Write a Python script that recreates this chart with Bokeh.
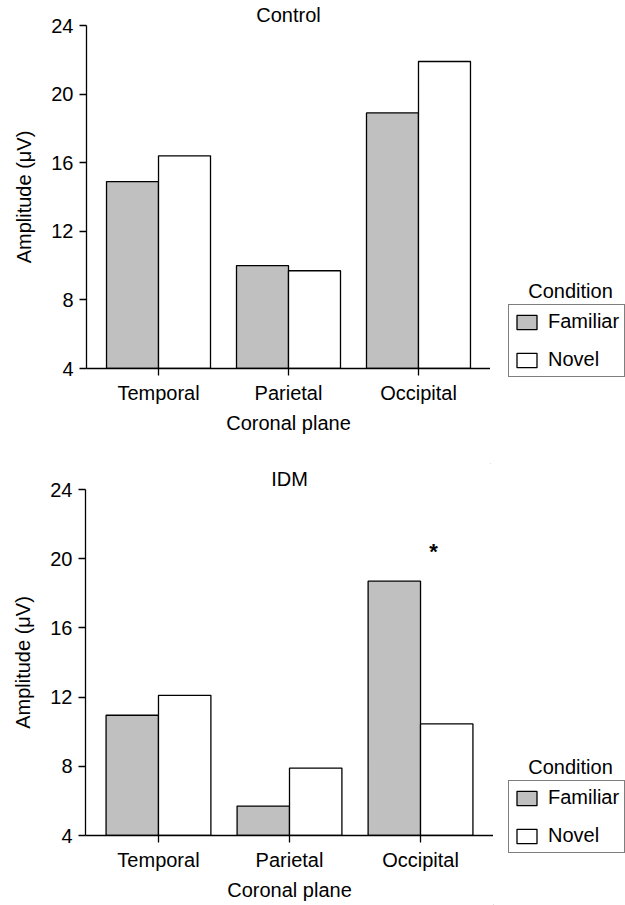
from bokeh.plotting import figure
from bokeh.models import (FactorRange, Range1d, FixedTicker, Legend, LegendItem,
                          Label, ColumnDataSource)
from bokeh.transform import dodge
from bokeh.layouts import column, row
from bokeh.core.properties import value
from bokeh.embed import file_html
from bokeh.resources import INLINE

# ---- data ----
regions = ["Temporal", "Parietal", "Occipital"]
conditions = ["Familiar", "Novel"]
control_familiar = [14.9, 10.0, 18.9]
control_novel = [16.4, 9.7, 21.9]
idm_familiar = [10.95, 5.7, 18.7]
idm_novel = [12.1, 7.9, 10.45]
y_ticks = [4, 8, 12, 16, 20, 24]
y_min, y_max = 4, 24
star_region = "Occipital"
star_value = 20.6

FONT = "Liberation Sans"
FS = "20px"
GRAY = "#c0c0c0"
LW = 1.3
FILLS = [GRAY, "white"]


def make_panel(title, fam, nov, width, height, b_bottom, b_left, pad, star=False):
    src = ColumnDataSource(dict(region=regions, familiar=fam, novel=nov))
    x_range = FactorRange(factors=regions, range_padding=pad,
                          range_padding_units="absolute")
    p = figure(x_range=x_range, y_range=Range1d(y_min, y_max), width=width,
               height=height, output_backend="svg", toolbar_location=None,
               min_border_top=25, min_border_bottom=b_bottom,
               min_border_left=b_left, min_border_right=0)
    p.outline_line_color = None
    p.xgrid.visible = False
    p.ygrid.visible = False

    p.title.text = title
    p.title.align = "center"
    p.title.text_font = FONT
    p.title.text_font_size = FS
    p.title.text_font_style = "normal"
    p.title.text_color = "black"
    p.title.standoff = 0
    p.title.text_baseline = "alphabetic"

    p.vbar(x=dodge("region", -0.2, range=x_range), top="familiar",
           bottom=y_min, width=0.4, source=src, fill_color=FILLS[0],
           line_color="black", line_width=LW)
    p.vbar(x=dodge("region", 0.2, range=x_range), top="novel",
           bottom=y_min, width=0.4, source=src, fill_color=FILLS[1],
           line_color="black", line_width=LW)

    for ax in (p.xaxis[0], p.yaxis[0]):
        ax.axis_line_width = LW
        ax.axis_line_color = "black"
        ax.major_tick_line_width = LW
        ax.major_tick_line_color = "black"
        ax.major_tick_in = 0
        ax.major_tick_out = 7
        ax.minor_tick_in = 0
        ax.minor_tick_out = 0
        ax.major_label_text_font = FONT
        ax.major_label_text_font_size = FS
        ax.major_label_text_color = "black"
        ax.axis_label_text_font = FONT
        ax.axis_label_text_font_size = FS
        ax.axis_label_text_font_style = "normal"
        ax.axis_label_text_color = "black"
    p.xaxis.axis_label = "Coronal plane"
    p.xaxis.major_label_standoff = 6
    p.xaxis.axis_label_standoff = 5
    p.yaxis.axis_label = "Amplitude (\u03bcV)"
    p.yaxis.ticker = FixedTicker(ticks=y_ticks)
    p.yaxis.major_label_standoff = 6
    p.yaxis.axis_label_standoff = 13

    if star:
        p.text(x=[star_region], y=[star_value], text=["*"], x_offset=13,
               y_offset=3, text_align="center", text_baseline="middle",
               text_font=value(FONT), text_font_size="22px",
               text_font_style="bold", text_color="black")
    return p


def make_legend(width, height, legend_xy, cond_xy):
    # a blank side figure that only carries the legend
    q = figure(width=width, height=height, output_backend="svg",
               toolbar_location=None, x_axis_type=None, y_axis_type=None,
               min_border=0, x_range=Range1d(0, 1), y_range=Range1d(0, 1))
    q.frame_align = False
    q.outline_line_color = None
    q.xgrid.visible = False
    q.ygrid.visible = False
    # legend proxies, kept far outside the visible range
    proxy = ColumnDataSource(dict(x=[-50], top=[-50]))
    renderers = [q.vbar(x="x", top="top", bottom=-60, width=0.4, source=proxy,
                        fill_color=f, line_color="black", line_width=LW)
                 for f in FILLS]
    legend = Legend(items=[LegendItem(label=c, renderers=[r])
                           for c, r in zip(conditions, renderers)],
                    location=legend_xy, border_line_color="black",
                    border_line_width=LW, padding=5, spacing=15,
                    glyph_width=25, glyph_height=18, label_height=18,
                    label_standoff=9, label_text_font=FONT,
                    label_text_font_size=FS, label_text_color="black",
                    margin=0, background_fill_color="white",
                    background_fill_alpha=1)
    q.add_layout(legend)
    q.add_layout(Label(x=cond_xy[0], y=cond_xy[1], x_units="screen",
                       y_units="screen", text="Condition", text_align="center",
                       text_baseline="bottom", text_font=FONT,
                       text_font_size=FS, text_color="black",
                       level="overlay"))
    return q


p1 = make_panel("Control", control_familiar, control_novel, 490, 464, 96, 86,
                0.054)
l1 = make_legend(135, 464, (18, 87), (80, 163))
p2 = make_panel("IDM", idm_familiar, idm_novel, 493, 441, 70, 85, 0.057,
                star=True)
l2 = make_legend(132, 441, (15, 52), (77, 128))

layout = column(row(p1, l1, spacing=0), row(p2, l2, spacing=0), spacing=0)
open("out.html", "w").write(file_html(layout, INLINE))
